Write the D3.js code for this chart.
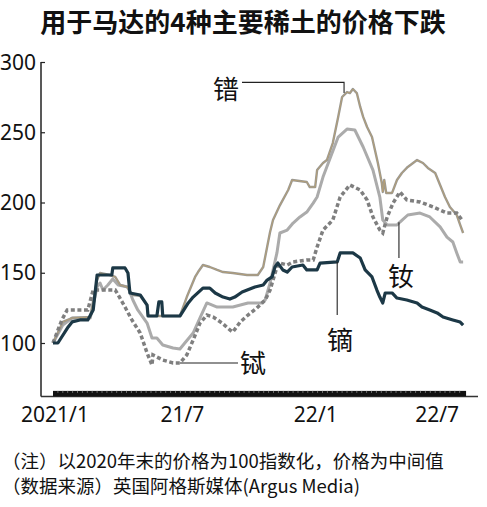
<!DOCTYPE html>
<html><head><meta charset="utf-8">
<script src="https://cdn.jsdelivr.net/npm/d3@7"></script>
<style>
html,body{margin:0;padding:0;background:#fff;}
svg{display:block;}
</style></head>
<body>
<svg id="chart" width="487" height="507"></svg>
<script>
// ---- data (week index since 2021/1/1, index value: end-2020 = 100) ----
const title = "用于马达的4种主要稀土的价格下跌";
const yTicks = [100, 150, 200, 250, 300];
const xTickWeeks = [0, 26, 52, 78];
const xTickLabels = ["2021/1", "21/7", "22/1", "22/7"];
const notes = ["（注）以2020年末的价格为100指数化，价格为中间值", "（数据来源）英国阿格斯媒体(Argus Media)"];

const praseodymium = [[0,100],[2,115],[3.9,117.8],[7.6,118.5],[9,144.8],[9.6,149.8],[11.6,148.4],[12.7,147],[13.7,141.3],[15.1,139.9],[16.3,134.2],[17.8,133.5],[19.2,127],[19.4,119.2],[25.9,119.2],[27.3,132.7],[29,147],[29.6,150.5],[30.6,155.5],[32,154.1],[33.5,152],[34.7,150.5],[36.7,149.8],[39.6,148.4],[41.8,148.4],[42.9,154.1],[43.7,168.3],[44.3,179],[44.9,187.5],[46.3,198],[48,208.9],[48.8,216],[51.8,214.6],[52.4,211],[53.5,211],[53.9,223.1],[55.1,228.1],[55.9,230.2],[57.1,242.3],[58.2,260.9],[59,275.1],[60,278.6],[60.6,277.9],[61.2,280.8],[62,277.9],[62.7,268],[63.3,260.9],[64.1,253.7],[65.1,246.6],[65.7,237.4],[66.3,228.1],[67.1,213.9],[67.3,207.5],[67.6,216],[68,206.8],[69.2,206.8],[70.2,216],[71.2,221],[72.4,225.3],[74.3,230.2],[75.5,228.1],[76.5,224.6],[78,221],[79,212.5],[80,203.9],[81,196.8],[82.4,191.1],[83.1,184],[83.7,178.3]];

const neodymium = [[0,100],[2,112.8],[3.9,117.8],[7.6,117.8],[9,139.9],[9.6,142.7],[10.2,137.7],[11.2,141.3],[12.2,145.6],[13.3,141.3],[15.3,139.9],[16.3,130.6],[17.3,123.5],[19.2,114.2],[20.2,103.6],[21.2,103.6],[22.4,98.6],[24.5,96.4],[25.9,95.7],[26.9,100],[28.6,107.1],[30,117.8],[31.4,128.5],[33.5,125.6],[36.7,125.6],[39.8,128.5],[42.5,128.5],[43.3,130.6],[44.3,142.7],[45.7,164.1],[46.3,178.3],[47.8,180.4],[49,185.4],[50.4,189.7],[51.8,193.2],[53.1,199.6],[53.9,203.9],[55.1,218.1],[58.2,246.6],[60,252.3],[61.6,251.6],[63.3,239.5],[65.3,223.1],[66.7,203.9],[67.3,187.5],[68.2,184],[70.2,184],[70.8,186.1],[72.4,191.1],[74.9,192.5],[76.9,189.7],[79,182.6],[80.4,175.4],[81.6,171.9],[82.4,164.1],[83.1,157.7],[83.7,157.7]];

const terbium = [[0,100],[1.8,116.4],[2.9,123.5],[7.1,123.5],[8.2,137.7],[12.7,137.7],[13.3,134.2],[14.7,125.6],[16.1,116.4],[17.8,107.1],[19.2,92.9],[20.2,84.3],[20.4,91.5],[22.4,87.9],[24.5,85.8],[25.9,85.8],[27.3,91.5],[28.6,102.1],[30,114.2],[31.4,119.9],[32.7,118.5],[34.5,114.2],[36.1,109.3],[36.7,107.8],[38.2,114.9],[39.8,119.9],[41.6,124.9],[43.3,130.6],[44.3,137.7],[45.7,154.1],[46.3,156.9],[47.8,155.5],[49,157.7],[51.8,159.1],[53.1,159.1],[53.9,168.3],[55.1,180.4],[57.1,187.5],[58.6,203.9],[60.6,212.5],[62.7,208.9],[64.1,201.8],[65.3,189.7],[66.7,180.4],[67.3,178.3],[68.2,189.7],[69.4,199.6],[70.8,207.5],[72.2,201.8],[74.9,200.4],[77.6,196.8],[80.4,192.5],[82.4,192.5],[83.5,187.5]];

const dysprosium = [[0,100],[1,100],[3.1,111.4],[3.9,115],[5.5,116.4],[7.1,116.4],[8.2,123.5],[9,148.4],[12,148.4],[12.2,153.4],[14.7,153.4],[15.3,149.8],[15.7,135.6],[17.8,134.2],[19.2,127],[19.4,119.2],[21.2,119.2],[21.6,129.2],[22.2,129.2],[22.4,119.2],[25.9,119.2],[27.6,128.5],[28.6,132.7],[30.6,139.1],[32,139.1],[33.1,135.6],[34.7,132.7],[36.1,131.3],[37.1,132.7],[38.6,136.3],[41.2,139.9],[42.9,141.3],[43.7,144.8],[44.7,147],[45.3,154.1],[45.9,156.9],[46.9,152],[47.8,150.5],[48.8,154.1],[51,155.5],[51.8,152],[53.9,152],[54.5,156.9],[58,157.7],[58.6,164.1],[61.2,164.1],[62.7,160.5],[63.7,152],[65.1,147],[66.1,137.7],[66.7,132.7],[67.3,128.5],[67.8,135.6],[69.2,135.6],[70.2,132],[72.2,130.6],[74.3,128.5],[75.3,125.6],[76.9,123.5],[78.4,121.4],[79.6,118.5],[81.6,116.4],[83.1,114.9],[83.7,112.8]];

const seriesNames = ["镨", "钕", "铽", "镝"];

// ---- drawing ----
const svg = d3.select("#chart");
const x = d3.scaleLinear().domain([0, 84]).range([53, 464.6]);
const y = d3.scaleLinear().domain([100, 300]).range([343, 62]);
const yBottom = 62;
const axisLeft = 41, axisRight = 478;

svg.append("rect").attr("width", 487).attr("height", 507).attr("fill", "#fff");

// title
svg.append("text").attr("x", 243).attr("y", 31.5).attr("text-anchor", "middle")
  .attr("font-family", "'Noto Sans CJK SC', sans-serif").attr("font-weight", 700)
  .attr("font-size", 26).attr("fill", "#111").text(title);

// y axis
const yAxis = d3.axisRight(y).tickValues(yTicks).tickSize(4).tickFormat("");
const gy = svg.append("g").attr("transform", `translate(${axisLeft},0)`).call(yAxis);
gy.select(".domain").remove();
gy.selectAll("line").attr("stroke", "#222").attr("stroke-width", 1.2);
svg.append("line").attr("x1", axisLeft).attr("x2", axisLeft)
  .attr("y1", y(300)).attr("y2", y(yBottom)).attr("stroke", "#222").attr("stroke-width", 1.5);
svg.selectAll(".ylab").data(yTicks).enter().append("text")
  .attr("x", 36).attr("y", d => y(d) + 7.5).attr("text-anchor", "end")
  .attr("font-family", "'Liberation Sans Narrow', 'Noto Sans', sans-serif")
  .attr("font-size", 21).attr("fill", "#111").text(d => d);

// x axis
svg.append("line").attr("x1", axisLeft).attr("x2", axisRight)
  .attr("y1", y(yBottom)).attr("y2", y(yBottom)).attr("stroke", "#333").attr("stroke-width", 1.5);
svg.append("rect").attr("x", x(0)).attr("y", y(yBottom) - 5.5)
  .attr("width", x(84.3) - x(0)).attr("height", 5.5).attr("fill", "#111");
svg.selectAll(".wk").data(d3.range(1, 84)).enter().append("line")
  .attr("x1", d => x(d)).attr("x2", d => x(d))
  .attr("y1", y(yBottom) - 5.5).attr("y2", y(yBottom) - 3.5)
  .attr("stroke", "#888").attr("stroke-width", 0.8);
svg.selectAll(".xlab").data(xTickWeeks).enter().append("text")
  .attr("x", (d, i) => x(d) + (i === 2 ? 8 : 2)).attr("y", 422).attr("text-anchor", "middle")
  .attr("font-family", "'Liberation Sans Narrow', 'Noto Sans', sans-serif")
  .attr("font-size", 21).attr("fill", "#111").text((d, i) => xTickLabels[i]);

// lines
const line = d3.line().x(d => x(d[0])).y(d => y(d[1])).curve(d3.curveLinear);
svg.append("path").datum(neodymium).attr("d", line).attr("fill", "none")
  .attr("stroke", "#ababab").attr("stroke-width", 3).attr("stroke-linejoin", "round");
svg.append("path").datum(praseodymium).attr("d", line).attr("fill", "none")
  .attr("stroke", "#999894").attr("stroke-width", 2.4).attr("stroke-linejoin", "round");
svg.append("path").datum(praseodymium).attr("d", line).attr("fill", "none")
  .attr("stroke", "#c9a45e").attr("stroke-width", 0.9).attr("stroke-opacity", 0.6)
  .attr("stroke-linejoin", "round");
svg.append("path").datum(terbium).attr("d", line).attr("fill", "none")
  .attr("stroke", "#7f7f7f").attr("stroke-width", 3.5).attr("stroke-dasharray", "4,2.6");
svg.append("path").datum(dysprosium).attr("d", line).attr("fill", "none")
  .attr("stroke", "#1c3846").attr("stroke-width", 3.2).attr("stroke-linejoin", "round");

// annotations
const annFont = "'Noto Sans CJK SC', sans-serif";
function label(txt, cx, cy) {
  svg.append("text").attr("x", cx).attr("y", cy).attr("text-anchor", "middle")
    .attr("dominant-baseline", "central").attr("font-family", annFont)
    .attr("font-size", 26).attr("fill", "#111").text(txt);
}
const lead = svg.append("g").attr("stroke", "#222").attr("stroke-width", 1.1).attr("fill", "none");
// 镨
lead.append("path").attr("d", `M242,${y(285.5)}H${x(59.4)}V${y(278)}`);
label(seriesNames[0], 226, 87);
// 钕
lead.append("path").attr("d", `M${x(70.6)},${y(186)}V258`);
label(seriesNames[1], 401, 274);
// 铽
lead.append("path").attr("d", `M${x(25.9)},${y(85.8)}H238`);
label(seriesNames[2], 253, 361);
// 镝
lead.append("path").attr("d", `M${x(58.0)},${y(157.7)}V315`);
label(seriesNames[3], 340, 338);

// notes
svg.selectAll(".note").data(notes).enter().append("text")
  .attr("x", 2).attr("y", (d, i) => 468 + i * 25)
  .attr("font-family", "'Noto Sans CJK SC', sans-serif")
  .attr("font-size", 18.5).attr("fill", "#111").text(d => d);
</script>
</body></html>
